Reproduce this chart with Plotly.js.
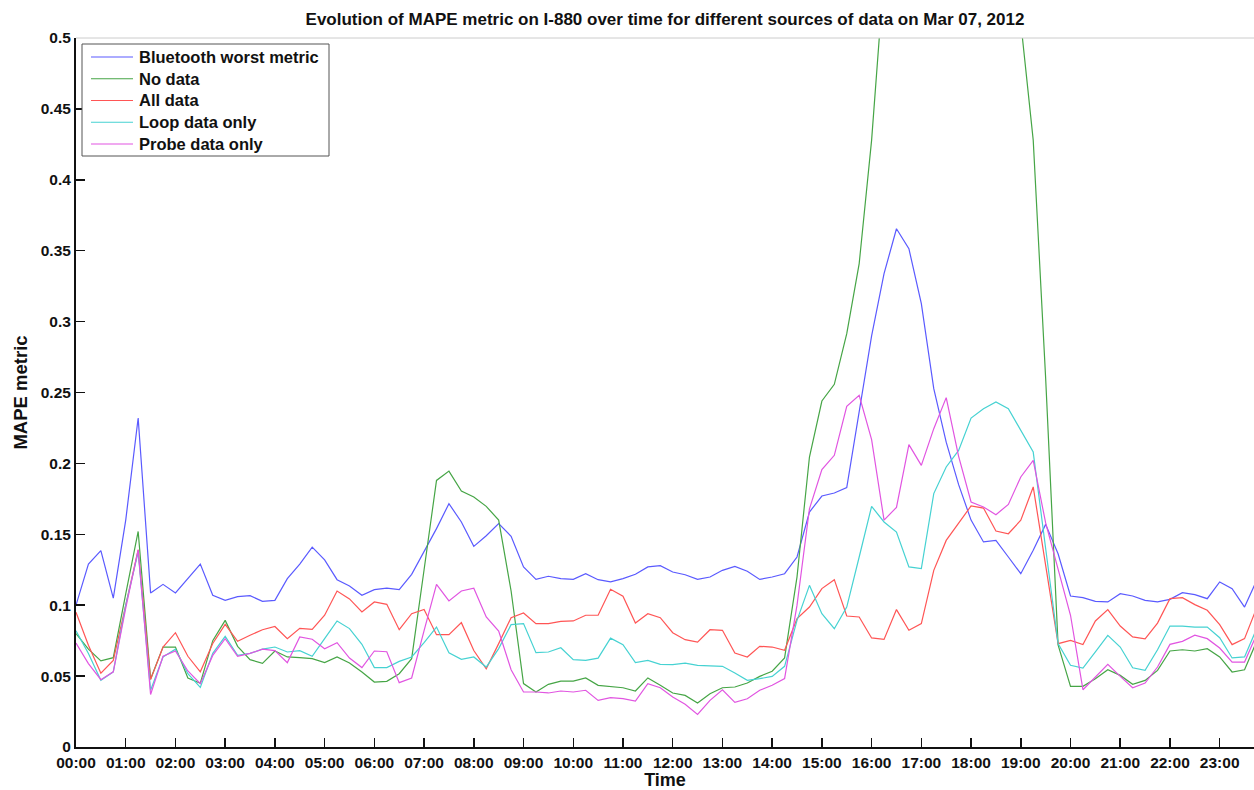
<!DOCTYPE html>
<html>
<head>
<meta charset="utf-8">
<script src="https://cdn.plot.ly/plotly-3.0.1.min.js"></script>
<style>
html,body{margin:0;padding:0;background:#fff;}
#chart{width:1254px;height:790px;}
</style>
</head>
<body>
<div id="chart"></div>
<script>
// 15-minute samples starting at 00:00 on Mar 07, 2012
const bluetoothWorst = [0.100,0.129,0.1385,0.105,0.160,0.232,0.1086,0.1147,0.1086,0.1187,0.129,0.107,0.1034,0.106,0.1067,0.1027,
0.1034,0.1187,0.129,0.141,0.132,0.118,0.1135,0.107,0.111,0.112,0.111,0.1218,0.1375,0.154,0.1716,0.1587,
0.1415,0.149,0.1575,0.1486,0.127,0.1182,0.1204,0.1187,0.1182,0.1222,0.118,0.1164,0.1187,0.1218,0.127,0.1279,
0.1234,0.1215,0.1182,0.1199,0.1246,0.1274,0.124,0.1182,0.1199,0.1222,0.134,0.1657,0.177,0.1791,0.1829,0.236,
0.290,0.3338,0.3655,0.3514,0.3127,0.2527,0.215,0.185,0.160,0.1446,0.1457,0.134,0.1222,0.1387,0.157,0.1363,
0.1065,0.1053,0.1027,0.1023,0.1081,0.1065,0.1034,0.1023,0.1041,0.1088,0.1074,0.1046,0.1164,0.1117,0.0987,0.118];

const noData = [0.080,0.069,0.0607,0.063,0.108,0.152,0.048,0.0705,0.0705,0.0487,0.045,0.075,0.0893,0.071,0.0616,0.059,
0.0677,0.0635,0.063,0.0623,0.0595,0.0635,0.0593,0.0529,0.0458,0.0463,0.0517,0.0623,0.125,0.188,0.1946,0.1805,
0.1763,0.1697,0.160,0.110,0.0447,0.0388,0.0442,0.0465,0.0465,0.0487,0.0435,0.0428,0.0418,0.0395,0.0487,0.0435,
0.0381,0.0364,0.031,0.0376,0.0418,0.0423,0.0451,0.0498,0.0534,0.0628,0.120,0.2045,0.244,0.2558,0.2915,0.3409,
0.428,0.545,0.62,0.70,0.75,0.78,0.78,0.75,0.70,0.65,0.60,0.55,0.511,0.428,0.26,0.072,
0.0428,0.0428,0.0482,0.0545,0.0505,0.0442,0.047,0.054,0.0677,0.0686,0.0677,0.0693,0.0635,0.0529,0.0545,0.075];

const allData = [0.095,0.0717,0.052,0.061,0.100,0.139,0.0475,0.0705,0.0806,0.064,0.053,0.073,0.0865,0.0745,0.0788,0.0827,
0.085,0.0764,0.0837,0.083,0.0929,0.110,0.1044,0.0952,0.1023,0.1006,0.0827,0.094,0.097,0.0792,0.0792,0.0877,
0.068,0.0552,0.0729,0.0912,0.0945,0.087,0.087,0.0886,0.0889,0.0929,0.0929,0.1112,0.1063,0.0874,0.094,0.0912,
0.0806,0.0757,0.074,0.0827,0.0823,0.0663,0.0635,0.071,0.0705,0.0682,0.0905,0.0987,0.1117,0.118,0.0924,0.0917,
0.0769,0.0759,0.0969,0.0823,0.087,0.1246,0.1457,0.1575,0.170,0.1685,0.1523,0.1504,0.1599,0.1834,0.127,0.0729,
0.0752,0.0722,0.0889,0.0969,0.0853,0.0776,0.0762,0.0874,0.1046,0.1053,0.1004,0.0964,0.0863,0.0722,0.0764,0.0987];

const loopOnly = [0.082,0.066,0.047,0.053,0.100,0.1375,0.040,0.0635,0.069,0.0517,0.042,0.066,0.078,0.0646,0.066,0.069,
0.0705,0.067,0.068,0.064,0.0764,0.0889,0.0835,0.0724,0.056,0.056,0.0604,0.0635,0.0736,0.0846,0.0665,0.0618,
0.0635,0.0564,0.0694,0.0863,0.087,0.0665,0.067,0.070,0.0616,0.0611,0.0627,0.0768,0.0722,0.0595,0.0611,0.0583,
0.0581,0.0592,0.0576,0.0574,0.0569,0.0522,0.047,0.0482,0.0498,0.0569,0.0893,0.114,0.094,0.0834,0.0987,0.134,
0.1697,0.1587,0.1516,0.127,0.1258,0.1787,0.1975,0.2092,0.232,0.2386,0.2433,0.2386,0.2233,0.208,0.14,0.0729,
0.0576,0.0557,0.067,0.0787,0.0705,0.0559,0.0541,0.0686,0.0853,0.0853,0.0846,0.0846,0.0771,0.0628,0.0635,0.084];

const probeOnly = [0.0733,0.0588,0.0475,0.053,0.098,0.139,0.037,0.064,0.0677,0.0536,0.0447,0.0646,0.0764,0.064,0.066,0.069,
0.068,0.0595,0.0776,0.076,0.0693,0.0736,0.0627,0.056,0.0677,0.0672,0.0454,0.0487,0.082,0.1147,0.103,0.110,
0.112,0.0917,0.0818,0.0545,0.0388,0.0388,0.0381,0.0395,0.0388,0.040,0.0329,0.0348,0.0341,0.0324,0.0447,0.0418,
0.0352,0.0301,0.023,0.0329,0.0404,0.0315,0.034,0.040,0.0435,0.0482,0.100,0.168,0.1956,0.2057,0.2402,0.248,
0.2168,0.160,0.169,0.2132,0.1986,0.2245,0.2464,0.205,0.1728,0.1693,0.1638,0.1711,0.1904,0.2022,0.158,0.125,
0.0929,0.0404,0.0494,0.0583,0.0498,0.0418,0.0451,0.0564,0.0724,0.0745,0.0788,0.0764,0.0698,0.0599,0.0599,0.080];

const seriesNames = ['Bluetooth worst metric','No data','All data','Loop data only','Probe data only'];
const seriesColors = ['rgb(90,90,255)','rgb(70,165,70)','rgb(255,85,85)','rgb(70,210,210)','rgb(225,85,225)'];

const hourTickVals = [0,1,2,3,4,5,6,7,8,9,10,11,12,13,14,15,16,17,18,19,20,21,22,23];
const hourTickText = ['00:00','01:00','02:00','03:00','04:00','05:00','06:00','07:00','08:00','09:00','10:00','11:00',
'12:00','13:00','14:00','15:00','16:00','17:00','18:00','19:00','20:00','21:00','22:00','23:00'];
const yTickVals = [0,0.05,0.1,0.15,0.2,0.25,0.3,0.35,0.4,0.45,0.5];
const yTickText = ['0','0.05','0.1','0.15','0.2','0.25','0.3','0.35','0.4','0.45','0.5'];

const timeHours = bluetoothWorst.map((_, i) => i * 0.25);
const allSeries = [bluetoothWorst, noData, allData, loopOnly, probeOnly];

const traces = allSeries.map((vals, k) => ({
  x: timeHours,
  y: vals,
  type: 'scatter',
  mode: 'lines',
  name: seriesNames[k],
  line: {color: seriesColors[k], width: 1.2},
  showlegend: false
}));

const font = 'Liberation Sans, Arial, sans-serif';

// plot area geometry (pixels) used to place the legend box in paper coordinates
const W = 1254, H = 790, ML = 76, MR = 0, MT = 38, MB = 43;
const px2x = p => (p - ML) / (W - ML - MR);
const py2y = p => (H - MB - p) / (H - MT - MB);

const shapes = [{
  type: 'line', xref: 'paper', yref: 'paper',
  x0: 0, x1: 1, y0: 1, y1: 1,
  line: {color: '#cccccc', width: 1}
}, {
  type: 'rect', xref: 'paper', yref: 'paper',
  x0: px2x(82), x1: px2x(329), y0: py2y(156), y1: py2y(44),
  fillcolor: '#ffffff', line: {color: '#555555', width: 1}, layer: 'above'
}];
const annotations = [];
seriesNames.forEach((name, k) => {
  const cy = 57 + k * 21.75;
  shapes.push({
    type: 'line', xref: 'paper', yref: 'paper',
    x0: px2x(91), x1: px2x(133), y0: py2y(cy), y1: py2y(cy),
    line: {color: seriesColors[k], width: 1.2}, layer: 'above'
  });
  annotations.push({
    xref: 'paper', yref: 'paper', x: px2x(137), y: py2y(cy),
    xanchor: 'left', yanchor: 'middle', showarrow: false,
    text: '<b>' + name + '</b>',
    font: {family: font, size: 16.5, color: '#111'}
  });
});

const layout = {
  width: W,
  height: H,
  margin: {l: ML, r: MR, t: MT, b: MB, pad: 0},
  paper_bgcolor: '#ffffff',
  plot_bgcolor: '#ffffff',
  showlegend: false,
  title: {
    text: '<b>Evolution of MAPE metric on I-880 over time for different sources of data on Mar 07, 2012</b>',
    font: {family: font, size: 17, color: '#111'},
    x: 0.5, xref: 'paper', xanchor: 'center',
    y: 18, yref: 'container', yanchor: 'middle'
  },
  xaxis: {
    range: [0, 23.69],
    tickvals: hourTickVals,
    ticktext: hourTickText,
    ticks: 'inside',
    ticklen: 9,
    tickwidth: 1.5,
    tickcolor: '#111',
    showline: true,
    linecolor: '#111',
    linewidth: 2,
    showgrid: false,
    zeroline: false,
    tickfont: {family: font, size: 15.5, color: '#111', weight: 'bold'},
    title: {text: '<b>Time</b>', font: {family: font, size: 18, color: '#111'}, standoff: 4}
  },
  yaxis: {
    range: [0, 0.5],
    tickvals: yTickVals,
    ticktext: yTickText,
    ticks: 'inside',
    ticklen: 9,
    tickwidth: 1.5,
    tickcolor: '#111',
    showline: true,
    linecolor: '#111',
    linewidth: 2,
    showgrid: false,
    zeroline: false,
    tickfont: {family: font, size: 15.5, color: '#111', weight: 'bold'},
    title: {text: '<b>MAPE metric</b>', font: {family: font, size: 18.5, color: '#111'}, standoff: 8}
  },
  shapes: shapes,
  annotations: annotations
};

Plotly.newPlot('chart', traces, layout, {displayModeBar: false, staticPlot: true});
</script>
</body>
</html>
